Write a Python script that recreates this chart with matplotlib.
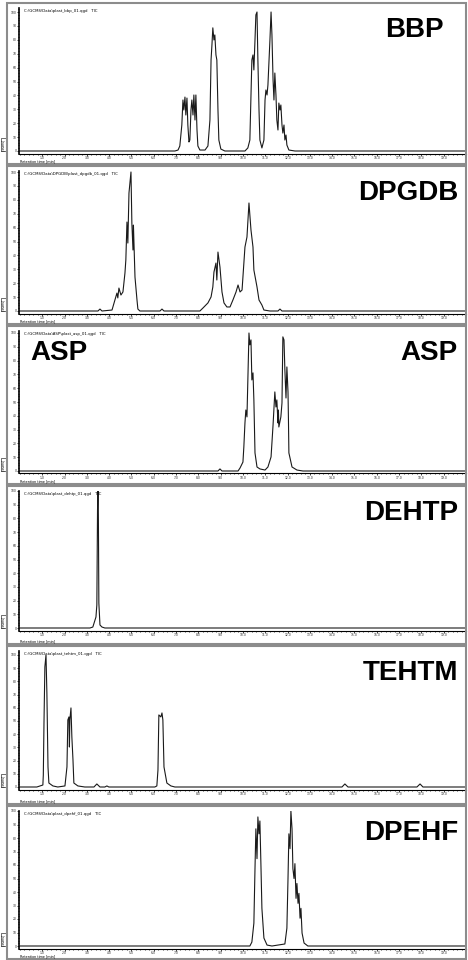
import matplotlib
matplotlib.use("Agg")
import matplotlib.pyplot as plt
from matplotlib.patches import Rectangle
from matplotlib.ticker import MultipleLocator

# retention time (min) and relative response (%) for each plasticizer run
t_bbp = [0.00, 6.95, 7.09, 7.17, 7.26, 7.31, 7.35, 7.40, 7.44, 7.49, 7.53, 7.58, 7.62, 7.67, 7.71, 7.76,
         7.80, 7.85, 7.89, 7.94, 7.98, 8.07, 8.30, 8.43, 8.52, 8.57, 8.61, 8.65, 8.70, 8.74, 8.79, 8.83,
         8.88, 8.92, 9.01, 9.19, 10.09, 10.22, 10.31, 10.40, 10.45, 10.49, 10.54, 10.58, 10.63, 10.67,
         10.72, 10.76, 10.85, 10.94, 10.99, 11.03, 11.08, 11.12, 11.17, 11.21, 11.26, 11.30, 11.35, 11.39,
         11.43, 11.48, 11.52, 11.57, 11.61, 11.66, 11.70, 11.75, 11.79, 11.84, 11.88, 11.93, 11.97, 12.06,
         12.33, 20.00]
i_bbp = [0, 0, 0.7, 3.6, 18.7, 36.7, 29.5, 38.8, 25.9, 38.1, 18.7, 6.5, 7.9, 29.5, 36.7, 25.9,
         40.3, 22.3, 40.3, 15.1, 3.6, 0.7, 0.7, 3.6, 22.3, 65.5, 76.3, 88.6, 79.9, 83.5, 69.1, 65.5,
         29.5, 7.9, 1.4, 0, 0, 2.2, 7.9, 65.5, 69.1, 58.3, 79.9, 97.9, 100, 65.5,
         29.5, 7.9, 2.2, 7.9, 36.7, 43.9, 40.3, 47.5, 65.5, 79.9, 100, 83.5, 51.1, 36.7,
         56.1, 40.3, 22.3, 15.1, 34.5, 29.5, 33.1, 18.7, 12.9, 18.7, 7.9, 11.5, 4.3, 0.7,
         0, 0]

t_dpgdb = [0.00, 3.50, 3.59, 3.68, 4.13, 4.26, 4.35, 4.39, 4.44, 4.53, 4.62, 4.71, 4.75, 4.80, 4.84, 4.89,
           4.98, 5.02, 5.07, 5.09, 5.11, 5.16, 5.25, 5.29, 5.38, 6.28, 6.37, 6.46, 8.07, 8.21, 8.43, 8.57,
           8.65, 8.70, 8.79, 8.83, 8.88, 8.97, 9.06, 9.15, 9.28, 9.42, 9.55, 9.69, 9.78, 9.87, 9.96, 10.09,
           10.18, 10.27, 10.36, 10.45, 10.49, 10.63, 10.72, 10.85, 10.94, 11.21, 11.57, 11.66, 11.75, 20.00]
i_dpgdb = [0, 0, 1.4, 0, 0.7, 7.9, 12.9, 9.4, 16.5, 11.5, 13.7, 27.3, 36.7, 64.0, 48.9, 84.8,
           100, 63.3, 43.9, 61.8, 51.0, 24.4, 7.9, 1.4, 0, 0, 1.4, 0, 0, 2.2, 5.8, 10.1,
           17.3, 28.0, 34.5, 22.3, 42.4, 31.6, 13.7, 5.8, 2.9, 2.9, 7.9, 13.7, 18.7, 13.7, 15.1, 46.0,
           53.2, 77.7, 58.3, 46.0, 29.5, 17.3, 7.9, 4.3, 0.7, 0, 0, 1.4, 0, 0]

t_asp = [0.00, 8.88, 8.97, 9.06, 9.78, 9.87, 10.00, 10.04, 10.09, 10.13, 10.18, 10.22, 10.27, 10.31, 10.36,
         10.40, 10.45, 10.49, 10.54, 10.63, 10.76, 10.99, 11.12, 11.26, 11.35, 11.43, 11.48, 11.52, 11.57,
         11.59, 11.61, 11.70, 11.75, 11.79, 11.84, 11.88, 11.93, 11.97, 12.02, 12.04, 12.06, 12.20, 12.42,
         12.69, 20.00]
i_asp = [0, 0, 1.5, 0, 0, 2.2, 6.5, 17.4, 34.8, 44.2, 39.2, 66.0, 100, 91.4, 95.0,
         66.0, 71.1, 51.5, 13.1, 2.9, 1.5, 0.7, 2.9, 10.2, 33.4, 57.3, 46.4, 51.5, 34.8,
         44.2, 31.9, 39.2, 49.3, 97.2, 95.0, 73.2, 52.9, 75.4, 57.3, 37.0, 13.1, 2.9, 0.7,
         0, 0]

t_dehtp = [0.00, 3.14, 3.27, 3.41, 3.45, 3.48, 3.50, 3.52, 3.54, 3.59, 3.68, 3.81, 20.00]
i_dehtp = [0, 0, 0.7, 8.0, 16.8, 86.1, 100, 78.8, 18.2, 2.2, 0.7, 0, 0]

t_tehtm = [0.00, 0.76, 1.03, 1.05, 1.08, 1.12, 1.17, 1.21, 1.26, 1.30, 1.48, 1.70, 2.02, 2.11, 2.15, 2.20,
           2.22, 2.24, 2.29, 2.33, 2.38, 2.42, 2.60, 2.91, 3.32, 3.45, 3.59, 3.81, 3.90, 3.99, 6.05, 6.14,
           6.19, 6.23, 6.32, 6.37, 6.41, 6.46, 6.59, 6.77, 6.95, 14.44, 14.57, 14.71, 17.80, 17.94, 18.07, 20.00]
i_tehtm = [0, 0, 1.5, 9.1, 48.5, 91.0, 100, 71.3, 15.2, 3.0, 0.8, 0, 0.8, 15.2, 50.8, 53.1,
           30.3, 50.8, 59.9, 37.9, 20.5, 3.0, 0.8, 0, 0, 2.3, 0, 0, 0.8, 0, 0, 0.8,
           12.9, 54.6, 53.1, 56.1, 50.8, 15.2, 3.0, 0.8, 0, 0, 2.3, 0, 0, 2.3, 0, 0]

t_dpehf = [0.00, 10.31, 10.40, 10.49, 10.54, 10.58, 10.63, 10.67, 10.72, 10.76, 10.81, 10.85, 10.94, 11.08,
           11.30, 11.88, 11.97, 12.02, 12.06, 12.11, 12.15, 12.20, 12.24, 12.29, 12.33, 12.38, 12.42, 12.47,
           12.51, 12.56, 12.60, 12.65, 12.74, 12.91, 20.00]
i_dpehf = [0, 0, 2.9, 16.9, 57.3, 86.8, 64.7, 95.6, 83.1, 92.6, 57.3, 27.9, 5.9, 0.7,
           0, 1.5, 13.2, 50.0, 83.1, 72.1, 100, 86.8, 57.3, 50.0, 61.0, 35.3, 46.3, 31.6,
           39.0, 20.6, 27.9, 9.6, 2.2, 0, 0]

names = ["BBP", "DPGDB", "ASP", "DEHTP", "TEHTM", "DPEHF"]
files = ["C:\\GCMS\\Data\\plast_bbp_01.qgd   TIC",
         "C:\\GCMS\\Data\\DPGDB\\plast_dpgdb_01.qgd   TIC",
         "C:\\GCMS\\Data\\ASP\\plast_asp_01.qgd   TIC",
         "C:\\GCMS\\Data\\plast_dehtp_01.qgd   TIC",
         "C:\\GCMS\\Data\\plast_tehtm_01.qgd   TIC",
         "C:\\GCMS\\Data\\plast_dpehf_01.qgd   TIC"]
traces = [(t_bbp, i_bbp), (t_dpgdb, i_dpgdb), (t_asp, i_asp),
          (t_dehtp, i_dehtp), (t_tehtm, i_tehtm), (t_dpehf, i_dpehf)]

# panel frames in pixels (top/bottom of box, baseline and 100% level)
W, H = 468, 960
box_top = [3, 166, 326, 486, 646, 806]
box_bot = [164, 324, 484, 644, 804, 959]
base_px = [151, 311, 471, 628, 787, 946]
peak_px = [12, 172, 333, 491, 655, 811]
name_right = [444, 458, 458, 458, 458, 458]

fig = plt.figure(figsize=(W / 100, H / 100), dpi=100)
fig.patch.set_facecolor("white")

for k in range(6):
    top, bot = box_top[k], box_bot[k]
    yb, yp = base_px[k], peak_px[k]
    ax_top = top + 5
    ax_bot = yb + 2.5

    # grey frame around each run
    fig.patches.append(Rectangle((7 / W, 1 - bot / H), (466 - 7) / W, (bot - top) / H,
                                 transform=fig.transFigure, fill=False, ec="#8c8c8c", lw=1.5))

    ax = fig.add_axes([19 / W, 1 - ax_bot / H, (466 - 19) / W, (ax_bot - ax_top) / H])
    scale = 100 / (yb - yp)
    ax.set_ylim((yb - ax_bot) * scale, (yb - ax_top) * scale)
    ax.set_xlim(-0.04, 20)

    t, resp = traces[k]
    ax.plot(t, resp, color="#1a1a1a", lw=0.8)

    for s in ["top", "right"]:
        ax.spines[s].set_visible(False)
    ax.spines["left"].set_linewidth(1.2)
    ax.spines["bottom"].set_linewidth(0.8)
    ax.set_facecolor("none")

    ax.xaxis.set_minor_locator(MultipleLocator(0.2))
    ax.yaxis.set_minor_locator(MultipleLocator(2))
    ax.tick_params(which="major", length=1.5, width=0.6, labelsize=2.2, pad=0.3, colors="#222222")
    ax.tick_params(which="minor", length=0.8, width=0.5)
    ax.set_xticks(range(1, 20))
    ax.set_xticklabels(["%.1f" % v for v in range(1, 20)])
    ax.set_yticks(range(0, 101, 10))
    ax.set_yticklabels([str(v) for v in range(0, 101, 10)])

    ax.text(0.012, 0.99, files[k], transform=ax.transAxes, fontsize=2.8, va="top", ha="left")
    ax.text(-0.03, 0.02, "[counts]", transform=ax.transAxes, fontsize=2.2, rotation=90,
            ha="right", va="bottom",
            bbox=dict(boxstyle="square,pad=0.2", fc="white", ec="black", lw=0.4))
    fig.text(20 / W, 1 - (bot - 1) / H, "Retention time [min]", fontsize=2.4, va="bottom")

    fig.text(name_right[k] / W, 1 - (top + 27) / H, names[k], ha="right", va="center",
             fontsize=20, fontweight="bold", family="Liberation Sans")
    if names[k] == "ASP":
        fig.text(30 / W, 1 - (top + 27) / H, names[k], ha="left", va="center",
                 fontsize=20, fontweight="bold", family="Liberation Sans")

fig.savefig("out.png", dpi=100)
